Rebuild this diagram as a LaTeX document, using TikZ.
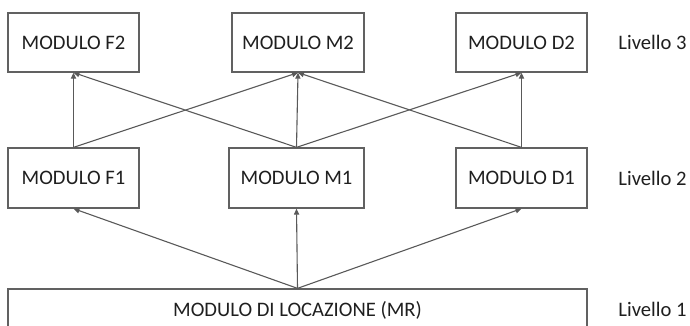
\documentclass[tikz,border=0pt]{standalone}
\usepackage{fontspec}
\setmainfont{Carlito}
\usetikzlibrary{arrows.meta}
\begin{document}
\begin{tikzpicture}[x=0.5pt,y=-0.5pt,
  modulo/.style={draw=black!62,line width=0.65pt,minimum width=65.5pt,minimum height=29.5pt,inner sep=0pt,text=black!88,font=\fontsize{10.3}{12}\selectfont},
  freccia/.style={draw=black!65,line width=0.55pt,-{Triangle[length=3pt,width=2.6pt]}},
  livello/.style={anchor=west,inner sep=0pt,text=black!88,font=\fontsize{10.3}{12}\selectfont}]
        \useasboundingbox (0,0) rectangle (690,326);
        \clip (0,0) rectangle (690,326);
        % livello 3
        \node[modulo] (f2) at (73.5,42.5) {MODULO F2};
        \node[modulo,minimum width=66pt] (m2) at (298,42.5) {MODULO M2};
        \node[modulo] (d2) at (521.5,42.5) {MODULO D2};
        % livello 2
        \node[modulo,minimum height=30pt] (f1) at (73.5,178) {MODULO F1};
        \node[modulo,minimum width=67.5pt,minimum height=30pt] (m1) at (296.5,178) {MODULO M1};
        \node[modulo,minimum height=30pt] (d1) at (521.5,178) {MODULO D1};
        % livello 1
        \node[modulo,minimum width=289.5pt,minimum height=21pt] (mr) at (297.5,310) {MODULO DI LOCAZIONE (MR)};
        \node[livello] (l3) at (618,42) {Livello 3};
        \node[livello] (l2) at (618,178) {Livello 2};
        \node[livello] (l1) at (618,309) {Livello 1};
        \draw[freccia] (f1.north) -- (f2.south);
        \draw[freccia] (f1.north) -- (m2.south);
        \draw[freccia] (m1.north) -- (f2.south);
        \draw[freccia] (m1.north) -- (m2.south);
        \draw[freccia] (m1.north) -- (d2.south);
        \draw[freccia] (d1.north) -- (m2.south);
        \draw[freccia] (d1.north) -- (d2.south);
        \draw[freccia] (mr.north) -- (f1.south);
        \draw[freccia] (mr.north) -- (m1.south);
        \draw[freccia] (mr.north) -- (d1.south);
\end{tikzpicture}
\end{document}
